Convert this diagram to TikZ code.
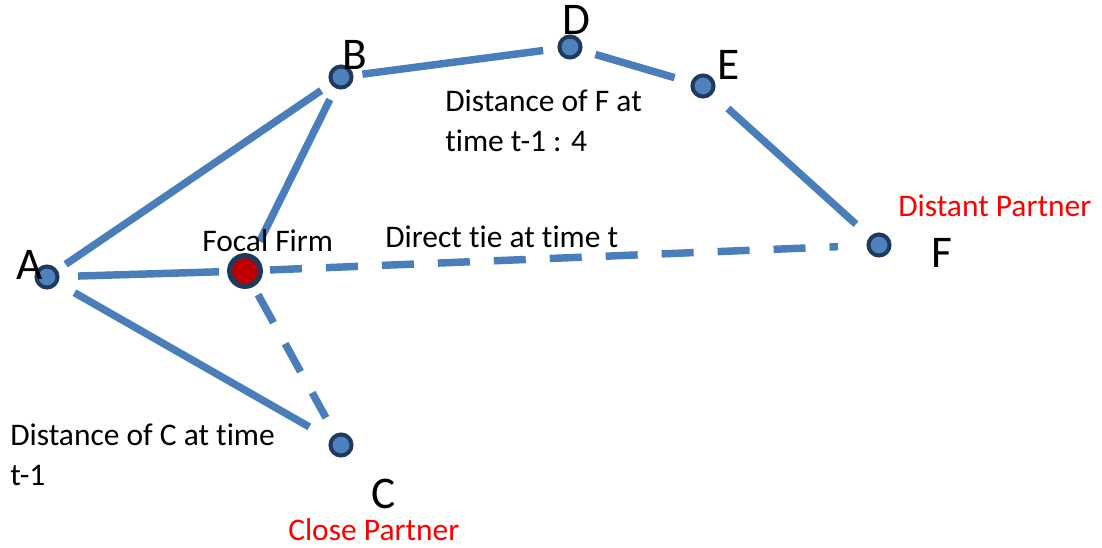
\documentclass[tikz,border=0pt]{standalone}
\usepackage{fontspec}
\setmainfont{Carlito}[Ligatures=CommonOff]
\usepackage{tikz}
\usetikzlibrary{positioning}
\definecolor{tieblue}{HTML}{4A7EBB}
\definecolor{nodeblue}{HTML}{4F81BD}
\definecolor{nodeline}{HTML}{203A5E}
\definecolor{focalred}{HTML}{C00000}
\definecolor{partnerred}{HTML}{FF0000}

\begin{document}
\begin{tikzpicture}[x=0.75pt,y=-0.75pt,
  firm/.style={circle,draw=nodeline,fill=nodeblue,line width=3pt,
               minimum size=15.8pt,inner sep=0pt},
  focal/.style={circle,draw=nodeline,fill=focalred,line width=3.9pt,
                minimum size=23pt,inner sep=0pt},
  tie/.style={draw=tieblue,line width=5.6pt},
  newtie/.style={tie,dash pattern=on 24pt off 18pt},
  letter/.style={anchor=base west,inner sep=0pt,font=\fontsize{34}{40}\selectfont},
  note/.style={anchor=base west,inner sep=0pt,align=left,
               font=\fontsize{23.6}{30}\selectfont},
  partner/.style={note,text=partnerred}]
  \useasboundingbox (0,0) rectangle (1102,548);
  % firms
  \node[firm] (A) at (47,277) {};
  \node[firm] (B) at (341,77) {};
  \node[firm] (D) at (570,47) {};
  \node[firm] (E) at (703,86) {};
  \node[firm] (F) at (879,245) {};
  \node[firm] (C) at (341,445) {};
  \node[focal] (ff) at (245,271) {};
  % ties
  \draw[tie,shorten <=7.5pt,shorten >=8.6pt] (A) -- (B);
  \draw[tie,shorten <=13.9pt,shorten >=6pt] (A) -- (ff);
  \draw[tie,shorten <=14.3pt,shorten >=18pt] (A) -- (C);
  \draw[tie,shorten <=9.4pt,shorten >=11.3pt] (B) -- (ff);
  \draw[tie,shorten <=6.8pt,shorten >=10.9pt] (B) -- (D);
  \draw[tie,shorten <=10.5pt,shorten >=12.8pt] (D) -- (E);
  \draw[tie,shorten <=15.8pt,shorten >=13.9pt] (E) -- (F);
  \draw[newtie,shorten <=5.3pt,shorten >=21.4pt] (ff) -- (F);
  \draw[newtie,shorten <=6.8pt,shorten >=13.9pt] (ff) -- (C);
  % labels
  \node[letter] (lA) at (16,280) {A};
  \node[letter] (lB) at (342,70) {B};
  \node[letter] (lD) at (562,35) {D};
  \node[letter] (lE) at (717,80) {E};
  \node[letter] (lF) at (931,268) {F};
  \node[letter] (lC) at (371,508) {C};
  \node[note] (focaltxt) at (202,252) {Focal Firm};
  \node[note] (directtxt) at (385,248) {Direct tie at time t};
  \node[note] (disttxtF) at (445,152) {Distance of F at\\time t-1 : 4};
  \node[note] (disttxtC) at (10,485) {Distance of C at time\\t-1};
  \node[partner] (distant) at (898,217) {Distant Partner};
  \node[partner] (close) at (288,540) {Close Partner};
\end{tikzpicture}
\end{document}
